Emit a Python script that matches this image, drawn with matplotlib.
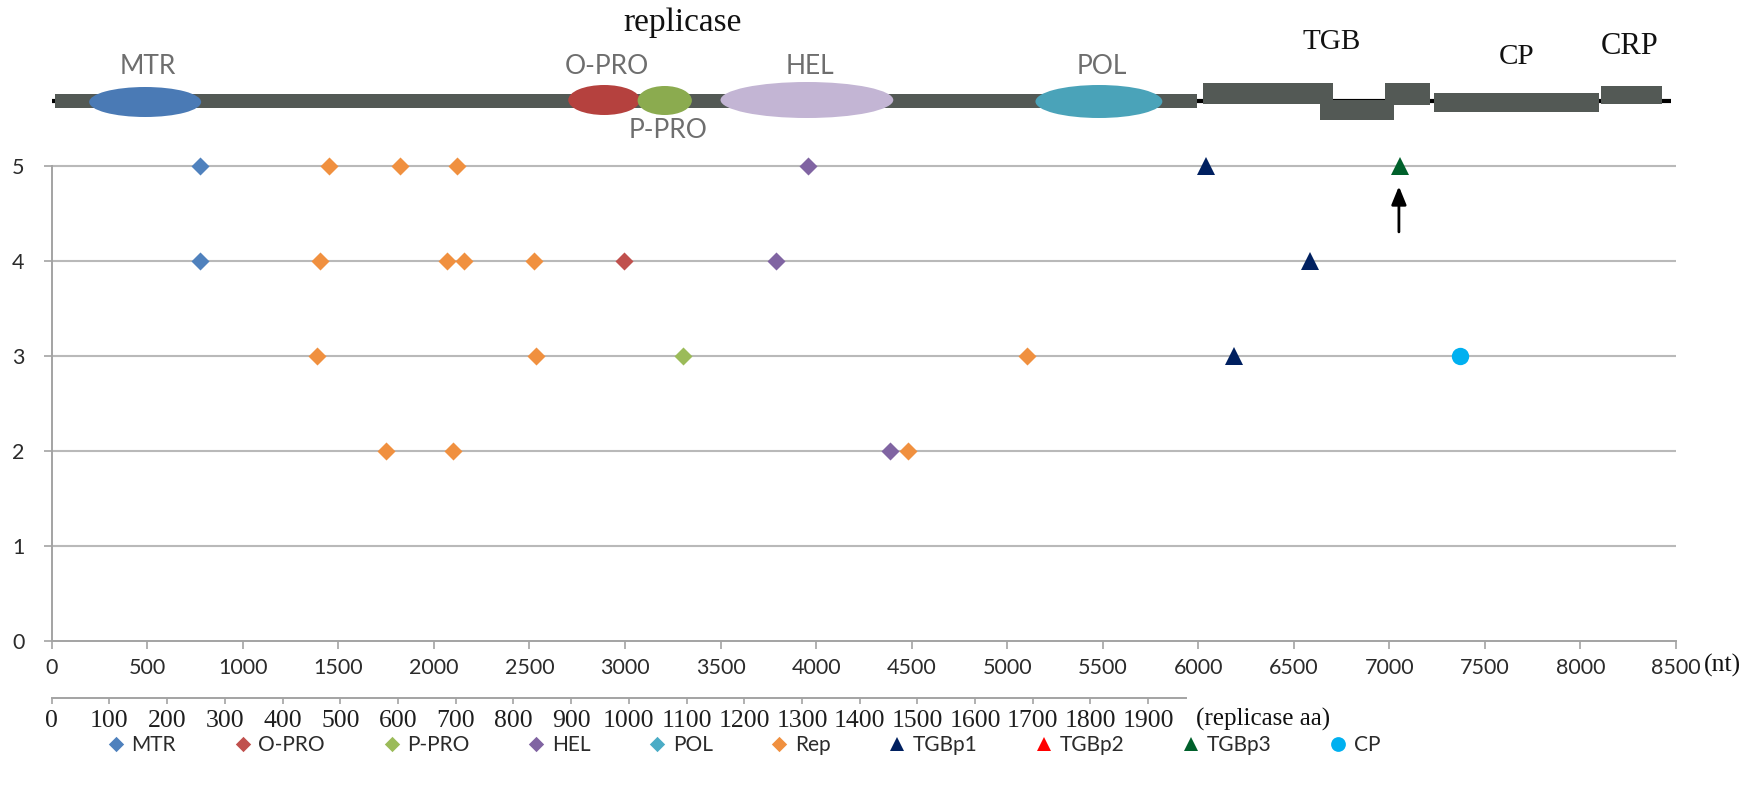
import matplotlib
matplotlib.use("Agg")
import matplotlib.pyplot as plt
from matplotlib.patches import Ellipse, Rectangle
from matplotlib.path import Path

# ---------------- genome organisation ----------------
genome_length = 8474
domain_names = ["MTR", "O-PRO", "P-PRO", "HEL", "POL"]
domain_start = [196, 2703, 3066, 3500, 5148]
domain_end = [782, 3079, 3350, 4404, 5812]
domain_colors = ["#4a7ab5", "#b5413e", "#8bab4f", "#c3b5d4", "#4aa3b9"]

orf_start = [15, 6024, 6635, 6977, 7234, 8107]
orf_end = [5993, 6705, 7024, 7213, 8097, 8426]
orf_labels = ["replicase", "TGB", "CP", "CRP"]
orf_label_x = [3300, 6700, 7665, 8255]

# ---------------- mapped positions (nt) per isolate row ----------------
mtr_nt, mtr_row = [778, 778], [5, 4]
opro_nt, opro_row = [2995], [4]
ppro_nt, ppro_row = [3301], [3]
hel_nt, hel_row = [3956, 3790, 4388], [5, 4, 2]
pol_nt, pol_row = [], []
rep_nt = [1452, 1822, 2120, 1405, 2067, 2155, 2522, 1387, 2532, 5106, 1748, 2102, 4479]
rep_row = [5, 5, 5, 4, 4, 4, 4, 3, 3, 3, 2, 2, 2]
tgbp1_nt, tgbp1_row = [6039, 6587, 6187], [5, 4, 3]
tgbp2_nt, tgbp2_row = [], []
tgbp3_nt, tgbp3_row = [7056], [5]
cp_nt, cp_row = [7370], [3]

nt_ticks = list(range(0, 8501, 500))
aa_ticks = list(range(0, 1901, 100))
row_ticks = [0, 1, 2, 3, 4, 5]
aa_axis_end = 1965
nt_per_aa = 3.02

SANS = ["Lato", "DejaVu Sans"]
SERIF = ["Liberation Serif", "DejaVu Serif"]
plt.rcParams["font.family"] = SANS

W, H = 1751, 790
fig = plt.figure(figsize=(W / 100, H / 100), dpi=100)
fig.patch.set_facecolor("white")

x_left, x_right = 51.7, 1676.0
y_top, y_bot = 166.4, 641.0
ax = fig.add_axes([x_left / W, 1 - y_bot / H, (x_right - x_left) / W, (y_bot - y_top) / H])
ax.set_xlim(0, 8500)
ax.set_ylim(0, 5)
ax.patch.set_alpha(0)

grid_c = "#b9b9b9"
axis_c = "#a3a3a3"
ax.hlines(row_ticks[1:], 0, 8500, color=grid_c, lw=1.5, zorder=1, clip_on=False)
for s in ["top", "right"]:
    ax.spines[s].set_visible(False)
for s in ["left", "bottom"]:
    ax.spines[s].set_color(axis_c)
    ax.spines[s].set_linewidth(1.4)
ax.set_xticks(nt_ticks)
ax.set_yticks(row_ticks)
ax.tick_params(axis="x", direction="out", length=6, width=1.2, color=axis_c,
               pad=6, labelsize=15.5, labelcolor="#2b2b2b")
ax.tick_params(axis="y", direction="out", length=6, width=1.2, color=axis_c,
               pad=13.5, labelsize=15.5, labelcolor="#2b2b2b")

diamond = Path([(0, 1), (1, 0), (0, -1), (-1, 0), (0, 1)],
               [Path.MOVETO, Path.LINETO, Path.LINETO, Path.LINETO, Path.CLOSEPOLY])

series = [
    ("MTR", mtr_nt, mtr_row, "#4f81bd", diamond, 13),
    ("O-PRO", opro_nt, opro_row, "#c0504d", diamond, 13),
    ("P-PRO", ppro_nt, ppro_row, "#9bbb59", diamond, 13),
    ("HEL", hel_nt, hel_row, "#8064a2", diamond, 13),
    ("POL", pol_nt, pol_row, "#4bacc6", diamond, 13),
    ("Rep", rep_nt, rep_row, "#f0903f", diamond, 13),
    ("TGBp1", tgbp1_nt, tgbp1_row, "#002060", "^", 12.6),
    ("TGBp2", tgbp2_nt, tgbp2_row, "#ff0000", "^", 12.6),
    ("TGBp3", tgbp3_nt, tgbp3_row, "#00602b", "^", 12.6),
    ("CP", cp_nt, cp_row, "#00b0f0", "o", 12.5),
]
handles = []
for name, xs, ys, col, mk, ms in series:
    h, = ax.plot(xs, ys, linestyle="none", marker=mk, markersize=ms, color=col,
                 markeredgewidth=0, zorder=3, clip_on=False, label=name)
    handles.append(h)

# arrow pointing at the TGBp3 mark
ax.annotate("", xy=(tgbp3_nt[0] - 6, 4.79), xytext=(tgbp3_nt[0] - 6, 4.31),
            arrowprops=dict(arrowstyle="-|>,head_length=1.1,head_width=0.45",
                            color="black", lw=2.0, shrinkA=0, shrinkB=0))

fig.text(1704 / W, 1 - 665 / H, "(nt)", family=SERIF, fontsize=18.5,
         ha="left", va="center", color="#111111")

# ---------------- replicase amino-acid scale ----------------
px_per_nt = (x_right - x_left) / 8500
aa_w = aa_axis_end * nt_per_aa * px_per_nt
y_aa = 698
ax2 = fig.add_axes([x_left / W, 1 - y_aa / H, aa_w / W, 0.0005])
ax2.set_xlim(0, aa_axis_end)
ax2.patch.set_alpha(0)
for s in ["top", "right", "left"]:
    ax2.spines[s].set_visible(False)
ax2.spines["bottom"].set_color(axis_c)
ax2.spines["bottom"].set_linewidth(1.4)
ax2.set_yticks([])
ax2.set_xticks(aa_ticks)
ax2.tick_params(axis="x", direction="out", length=4, width=1.2, color=axis_c,
                pad=4.5, labelsize=18.5, labelcolor="#1e1e1e")
for lab in ax2.get_xticklabels():
    lab.set_fontfamily(SERIF)
fig.text(1196 / W, 1 - 719 / H, "(replicase aa)", family=SERIF, fontsize=18,
         ha="left", va="center", color="#111111")

# ---------------- genome map ----------------
map_h = 160
axm = fig.add_axes([x_left / W, 1 - map_h / H, (x_right - x_left) / W, map_h / H])
axm.set_xlim(0, 8500)
axm.set_ylim(map_h, 0)
axm.axis("off")

axm.plot([0, genome_length], [101, 101], color="black", lw=3,
         solid_capstyle="butt", zorder=1)
orf_y = [(94.3, 108.3), (83.3, 104.3), (100, 120), (83.3, 105), (92.7, 111.7), (85.7, 104.3)]
for s, e, (t, b) in zip(orf_start, orf_end, orf_y):
    axm.add_patch(Rectangle((s, t), e - s, b - t, facecolor="#535955",
                            edgecolor="none", zorder=2))

ell_h = [30, 30, 29, 36, 33]
ell_cy = [102, 100, 100.5, 100, 101.5]
lab_y = [67, 67, 131, 67, 67]
for name, s, e, col, hgt, cy, ly in zip(domain_names, domain_start, domain_end,
                                        domain_colors, ell_h, ell_cy, lab_y):
    axm.add_patch(Ellipse(((s + e) / 2, cy), e - s, hgt, facecolor=col,
                          edgecolor="none", zorder=3))
    axm.text((s + e) / 2 + 15, ly, name, ha="center", va="center", fontsize=19,
             color="#6e6e6e", family=SANS)

orf_label_y = [23, 42, 57, 46]
orf_label_size = [24, 21, 21, 22]
for lab, lx, ly, fs in zip(orf_labels, orf_label_x, orf_label_y, orf_label_size):
    axm.text(lx, ly, lab, ha="center", va="center", fontsize=fs,
             family=SERIF, color="#111111")

# ---------------- legend ----------------
fig.legend(handles=handles, loc="center", bbox_to_anchor=(743 / W, 1 - 745 / H),
           ncol=10, frameon=False, fontsize=15, handlelength=1.0,
           handletextpad=0.25, columnspacing=2.7, markerscale=0.85,
           labelcolor="#2b2b2b")

fig.savefig("out.png", dpi=100, facecolor="white")
